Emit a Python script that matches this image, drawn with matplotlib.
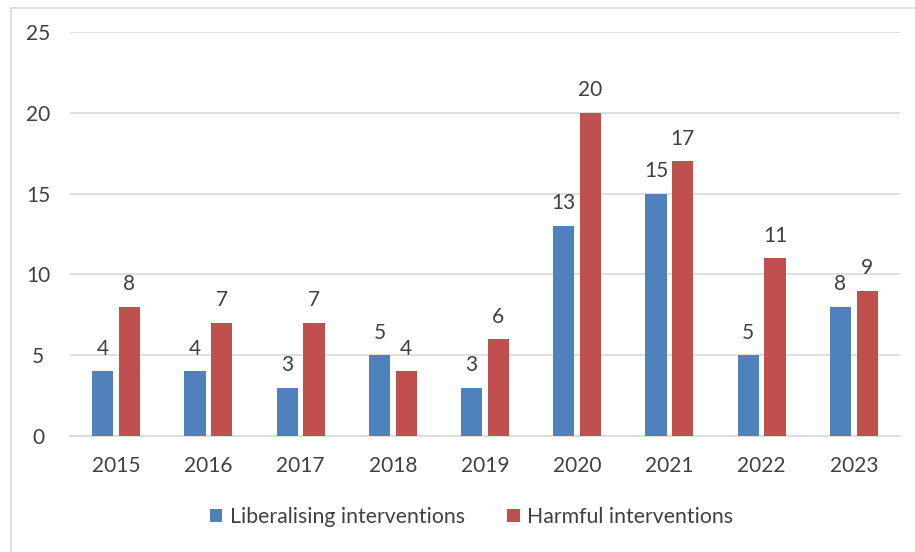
import numpy as np
import matplotlib
matplotlib.use("Agg")
import matplotlib.pyplot as plt
from matplotlib.patches import Rectangle

years = ["2015", "2016", "2017", "2018", "2019", "2020", "2021", "2022", "2023"]
liberalising = [4, 4, 3, 5, 3, 13, 15, 5, 8]
harmful = [8, 7, 7, 4, 6, 20, 17, 11, 9]

blue = "#4f81bd"
red = "#c0504d"
text_col = "#404040"

plt.rcParams["font.family"] = ["Lato", "DejaVu Sans"]

fig = plt.figure(figsize=(9.15, 5.52), dpi=100)
ax = fig.add_axes([0.0765, 0.21, 0.907, 0.732])

# chart frame
fig.patches.append(Rectangle((11 / 915, -0.05), 1.0, 1.05 - 8 / 552,
                             transform=fig.transFigure, fill=False,
                             edgecolor="#d9d9d9", linewidth=1.2))

x = np.arange(len(years))
w = 0.23
off = 0.145
b1 = ax.bar(x - off, liberalising, w, color=blue, label="Liberalising interventions", zorder=3)
b2 = ax.bar(x + off, harmful, w, color=red, label="Harmful interventions", zorder=3)

for bars, vals in ((b1, liberalising), (b2, harmful)):
    for r, v in zip(bars, vals):
        ax.annotate(str(v), (r.get_x() + r.get_width() / 2, v),
                    xytext=(0, 9), textcoords="offset points",
                    ha="center", va="bottom", fontsize=15, color=text_col)

ax.set_xlim(-0.5, len(years) - 0.5)
ax.set_ylim(0, 25)
ax.set_yticks(range(0, 26, 5))
ax.set_xticks(x)
ax.set_xticklabels(years)
ax.grid(axis="y", color="#d9d9d9", linewidth=1.2, zorder=0)
for s in ["top", "right", "left"]:
    ax.spines[s].set_visible(False)
ax.spines["bottom"].set_color("#d9d9d9")
ax.spines["bottom"].set_linewidth(1.2)
ax.tick_params(length=0, labelsize=15, colors=text_col, pad=14)
ax.tick_params(axis="y", pad=23)
for t in ax.get_yticklabels():
    t.set_ha("center")

fig.legend(handles=[b1, b2], loc="center", bbox_to_anchor=(0.5 + 14 / 915, 1 - 517 / 552),
           ncol=2, frameon=False, fontsize=15.3, handlelength=0.6, handleheight=0.6,
           handletextpad=0.35, columnspacing=2.0, labelcolor=text_col)

fig.savefig("out.png", dpi=100)
